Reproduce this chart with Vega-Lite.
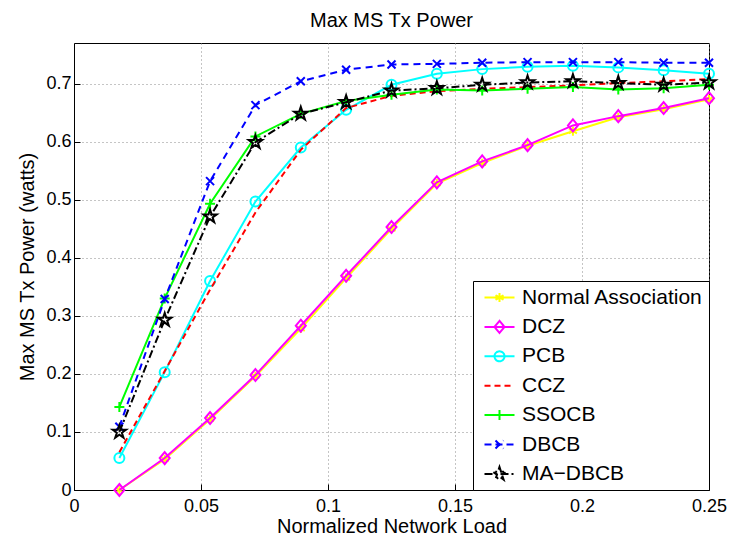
{
  "$schema": "https://vega.github.io/schema/vega-lite/v6.json",
  "autosize": "none",
  "width": 635,
  "height": 447,
  "padding": {"left": 74, "top": 43, "right": 25, "bottom": 47},
  "background": "white",
  "title": {"text": "Max MS Tx Power", "font": "Liberation Sans", "fontSize": 20, "fontWeight": "normal", "color": "black", "offset": 12},
  "config": {
    "view": {"stroke": "black", "strokeWidth": 1},
    "axis": {
      "labelFont": "Liberation Sans", "labelFontSize": 18, "labelColor": "black",
      "titleFont": "Liberation Sans", "titleFontSize": 20, "titleFontWeight": "normal", "titleColor": "black",
      "domainColor": "black", "tickColor": "black", "tickSize": -6,
      "gridColor": "#8a8a8a", "gridDash": [1, 3], "gridOpacity": 1, "gridWidth": 1
    },
    "legend": {
      "orient": "bottom-right", "offset": 0, "fillColor": "white", "strokeColor": "black",
      "padding": 6, "labelFont": "Liberation Sans", "labelFontSize": 21, "labelColor": "black", "labelLimit": 400,
      "symbolSize": 100, "rowPadding": 7.4, "labelOffset": 12, "symbolOffset": 10,
      "symbolStrokeWidth": 2, "symbolFillColor": "transparent"
    },
    "line": {"strokeWidth": 2},
    "point": {"filled": false, "strokeWidth": 2, "size": 100, "opacity": 1}
  },
  "datasets": {
    "d": [
      {"x": 0.01786, "y": 0.0, "s": "Normal Association"},
      {"x": 0.03571, "y": 0.053, "s": "Normal Association"},
      {"x": 0.05357, "y": 0.122, "s": "Normal Association"},
      {"x": 0.07143, "y": 0.196, "s": "Normal Association"},
      {"x": 0.08929, "y": 0.278, "s": "Normal Association"},
      {"x": 0.10714, "y": 0.365, "s": "Normal Association"},
      {"x": 0.125, "y": 0.450, "s": "Normal Association"},
      {"x": 0.14286, "y": 0.528, "s": "Normal Association"},
      {"x": 0.16071, "y": 0.563, "s": "Normal Association"},
      {"x": 0.17857, "y": 0.593, "s": "Normal Association"},
      {"x": 0.19643, "y": 0.618, "s": "Normal Association"},
      {"x": 0.21429, "y": 0.642, "s": "Normal Association"},
      {"x": 0.23214, "y": 0.656, "s": "Normal Association"},
      {"x": 0.25, "y": 0.673, "s": "Normal Association"},
      {"x": 0.01786, "y": 0.0, "s": "DCZ"},
      {"x": 0.03571, "y": 0.055, "s": "DCZ"},
      {"x": 0.05357, "y": 0.124, "s": "DCZ"},
      {"x": 0.07143, "y": 0.198, "s": "DCZ"},
      {"x": 0.08929, "y": 0.283, "s": "DCZ"},
      {"x": 0.10714, "y": 0.369, "s": "DCZ"},
      {"x": 0.125, "y": 0.453, "s": "DCZ"},
      {"x": 0.14286, "y": 0.530, "s": "DCZ"},
      {"x": 0.16071, "y": 0.566, "s": "DCZ"},
      {"x": 0.17857, "y": 0.594, "s": "DCZ"},
      {"x": 0.19643, "y": 0.628, "s": "DCZ"},
      {"x": 0.21429, "y": 0.644, "s": "DCZ"},
      {"x": 0.23214, "y": 0.658, "s": "DCZ"},
      {"x": 0.25, "y": 0.675, "s": "DCZ"},
      {"x": 0.01786, "y": 0.055, "s": "PCB"},
      {"x": 0.03571, "y": 0.203, "s": "PCB"},
      {"x": 0.05357, "y": 0.360, "s": "PCB"},
      {"x": 0.07143, "y": 0.497, "s": "PCB"},
      {"x": 0.08929, "y": 0.590, "s": "PCB"},
      {"x": 0.10714, "y": 0.655, "s": "PCB"},
      {"x": 0.125, "y": 0.698, "s": "PCB"},
      {"x": 0.14286, "y": 0.717, "s": "PCB"},
      {"x": 0.16071, "y": 0.725, "s": "PCB"},
      {"x": 0.17857, "y": 0.729, "s": "PCB"},
      {"x": 0.19643, "y": 0.731, "s": "PCB"},
      {"x": 0.21429, "y": 0.728, "s": "PCB"},
      {"x": 0.23214, "y": 0.723, "s": "PCB"},
      {"x": 0.25, "y": 0.717, "s": "PCB"},
      {"x": 0.01786, "y": 0.065, "s": "CCZ"},
      {"x": 0.03571, "y": 0.205, "s": "CCZ"},
      {"x": 0.05357, "y": 0.345, "s": "CCZ"},
      {"x": 0.07143, "y": 0.478, "s": "CCZ"},
      {"x": 0.08929, "y": 0.586, "s": "CCZ"},
      {"x": 0.10714, "y": 0.658, "s": "CCZ"},
      {"x": 0.125, "y": 0.679, "s": "CCZ"},
      {"x": 0.14286, "y": 0.687, "s": "CCZ"},
      {"x": 0.16071, "y": 0.691, "s": "CCZ"},
      {"x": 0.17857, "y": 0.694, "s": "CCZ"},
      {"x": 0.19643, "y": 0.697, "s": "CCZ"},
      {"x": 0.21429, "y": 0.701, "s": "CCZ"},
      {"x": 0.23214, "y": 0.704, "s": "CCZ"},
      {"x": 0.25, "y": 0.708, "s": "CCZ"},
      {"x": 0.01786, "y": 0.143, "s": "SSOCB"},
      {"x": 0.03571, "y": 0.330, "s": "SSOCB"},
      {"x": 0.05357, "y": 0.493, "s": "SSOCB"},
      {"x": 0.07143, "y": 0.609, "s": "SSOCB"},
      {"x": 0.08929, "y": 0.648, "s": "SSOCB"},
      {"x": 0.10714, "y": 0.670, "s": "SSOCB"},
      {"x": 0.125, "y": 0.681, "s": "SSOCB"},
      {"x": 0.14286, "y": 0.690, "s": "SSOCB"},
      {"x": 0.16071, "y": 0.688, "s": "SSOCB"},
      {"x": 0.17857, "y": 0.691, "s": "SSOCB"},
      {"x": 0.19643, "y": 0.694, "s": "SSOCB"},
      {"x": 0.21429, "y": 0.690, "s": "SSOCB"},
      {"x": 0.23214, "y": 0.692, "s": "SSOCB"},
      {"x": 0.25, "y": 0.698, "s": "SSOCB"},
      {"x": 0.01786, "y": 0.109, "s": "DBCB"},
      {"x": 0.03571, "y": 0.329, "s": "DBCB"},
      {"x": 0.05357, "y": 0.532, "s": "DBCB"},
      {"x": 0.07143, "y": 0.663, "s": "DBCB"},
      {"x": 0.08929, "y": 0.704, "s": "DBCB"},
      {"x": 0.10714, "y": 0.724, "s": "DBCB"},
      {"x": 0.125, "y": 0.733, "s": "DBCB"},
      {"x": 0.14286, "y": 0.734, "s": "DBCB"},
      {"x": 0.16071, "y": 0.736, "s": "DBCB"},
      {"x": 0.17857, "y": 0.737, "s": "DBCB"},
      {"x": 0.19643, "y": 0.737, "s": "DBCB"},
      {"x": 0.21429, "y": 0.737, "s": "DBCB"},
      {"x": 0.23214, "y": 0.736, "s": "DBCB"},
      {"x": 0.25, "y": 0.736, "s": "DBCB"},
      {"x": 0.01786, "y": 0.100, "s": "MA\u2212DBCB"},
      {"x": 0.03571, "y": 0.293, "s": "MA\u2212DBCB"},
      {"x": 0.05357, "y": 0.471, "s": "MA\u2212DBCB"},
      {"x": 0.07143, "y": 0.599, "s": "MA\u2212DBCB"},
      {"x": 0.08929, "y": 0.648, "s": "MA\u2212DBCB"},
      {"x": 0.10714, "y": 0.668, "s": "MA\u2212DBCB"},
      {"x": 0.125, "y": 0.688, "s": "MA\u2212DBCB"},
      {"x": 0.14286, "y": 0.692, "s": "MA\u2212DBCB"},
      {"x": 0.16071, "y": 0.698, "s": "MA\u2212DBCB"},
      {"x": 0.17857, "y": 0.702, "s": "MA\u2212DBCB"},
      {"x": 0.19643, "y": 0.704, "s": "MA\u2212DBCB"},
      {"x": 0.21429, "y": 0.701, "s": "MA\u2212DBCB"},
      {"x": 0.23214, "y": 0.698, "s": "MA\u2212DBCB"},
      {"x": 0.25, "y": 0.702, "s": "MA\u2212DBCB"}
    ]
  },
  "data": {"name": "d"},
  "encoding": {
    "x": {"field": "x", "type": "quantitative", "scale": {"domain": [0, 0.25], "nice": false},
      "axis": {"title": "Normalized Network Load", "values": [0, 0.05, 0.1, 0.15, 0.2, 0.25], "format": "~g", "grid": true, "labelPadding": 13, "titlePadding": 1, "labelFlush": false}},
    "y": {"field": "y", "type": "quantitative", "scale": {"domain": [0, 0.77], "nice": false, "zero": true},
      "axis": {"title": "Max MS Tx Power (watts)", "values": [0, 0.1, 0.2, 0.3, 0.4, 0.5, 0.6, 0.7], "format": "~g", "grid": true, "labelPadding": 9, "titlePadding": 8, "labelFlush": false}},
    "color": {"field": "s", "type": "nominal", "title": null,
      "scale": {"domain": ["Normal Association", "DCZ", "PCB", "CCZ", "SSOCB", "DBCB", "MA\u2212DBCB"],
        "range": ["#ffff00", "#ff00ff", "#00ffff", "#ff0000", "#00ff00", "#0000ff", "#000000"]},
      "legend": {
        "title": null,
        "symbolDash": {"expr": "datum.value == 'CCZ' ? [6,4] : datum.value == 'DBCB' ? [7,4] : (datum.value == 'Normal Association' || datum.value == 'DCZ' || datum.value == 'PCB' || datum.value == 'SSOCB') ? [1,0] : [8,3,2,3]"},
        "symbolType": {"expr": "datum.value == 'Normal Association' ? 'M-3,0L3,0M0,-0.9L0,0.9M-0.8,-0.45L0.8,0.45M-0.8,0.45L0.8,-0.45' : datum.value == 'DCZ' ? 'M-3,0L3,0M0,-1.2L1,0L0,1.2L-1,0Z' : datum.value == 'PCB' ? 'M-3,0L3,0M-1,0A1,1,0,1,0,1,0A1,1,0,1,0,-1,0Z' : datum.value == 'CCZ' ? 'M-3,0L3,0' : datum.value == 'SSOCB' ? 'M-3,0L3,0M0,-1L0,1' : datum.value == 'DBCB' ? 'M-3,0L3,0M-0.8,-0.8L0.8,0.8M-0.8,0.8L0.8,-0.8' : 'M-3,0L3,0M0,-1.4L0.315,-0.433L1.331,-0.433L0.508,0.165L0.823,1.133L0,0.535L-0.823,1.133L-0.508,0.165L-1.331,-0.433L-0.315,-0.433Z'"}
      }
    }
  },
  "layer": [
    {"transform": [{"filter": "datum.s == 'Normal Association'"}], "mark": {"type": "line"}},
    {"transform": [{"filter": "datum.s == 'Normal Association'"}], "mark": {"type": "point", "shape": "M0,-0.9L0,0.9M-0.8,-0.45L0.8,0.45M-0.8,0.45L0.8,-0.45"}},
    {"transform": [{"filter": "datum.s == 'DCZ'"}], "mark": {"type": "line"}},
    {"transform": [{"filter": "datum.s == 'DCZ'"}], "mark": {"type": "point", "shape": "M0,-1.2L1,0L0,1.2L-1,0Z"}},
    {"transform": [{"filter": "datum.s == 'PCB'"}], "mark": {"type": "line"}},
    {"transform": [{"filter": "datum.s == 'PCB'"}], "mark": {"type": "point", "shape": "circle"}},
    {"transform": [{"filter": "datum.s == 'CCZ'"}], "mark": {"type": "line", "strokeDash": [6, 4]}},
    {"transform": [{"filter": "datum.s == 'SSOCB'"}], "mark": {"type": "line"}},
    {"transform": [{"filter": "datum.s == 'SSOCB'"}], "mark": {"type": "point", "shape": "M0,-1L0,1M-1,0L1,0"}},
    {"transform": [{"filter": "datum.s == 'DBCB'"}], "mark": {"type": "line", "strokeDash": [7, 5]}},
    {"transform": [{"filter": "datum.s == 'DBCB'"}], "mark": {"type": "point", "shape": "M-0.8,-0.8L0.8,0.8M-0.8,0.8L0.8,-0.8"}},
    {"transform": [{"filter": "datum.s == 'MA\u2212DBCB'"}], "mark": {"type": "line", "strokeDash": [8, 3, 2, 3]}},
    {"transform": [{"filter": "datum.s == 'MA\u2212DBCB'"}], "mark": {"type": "point", "shape": "M0,-1.4L0.315,-0.433L1.331,-0.433L0.508,0.165L0.823,1.133L0,0.535L-0.823,1.133L-0.508,0.165L-1.331,-0.433L-0.315,-0.433Z"}}
  ]
}
